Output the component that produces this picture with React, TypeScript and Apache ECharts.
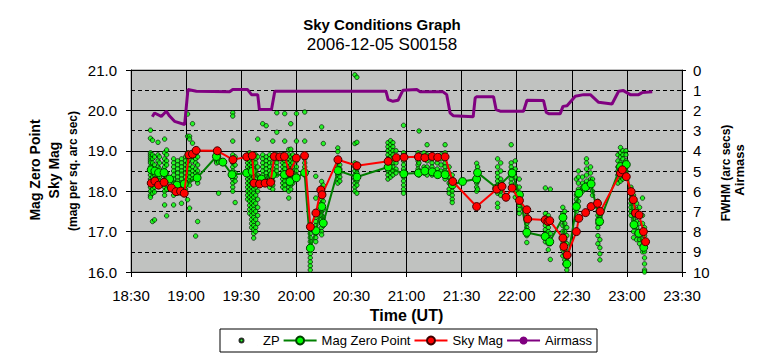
import React, { useEffect, useRef } from 'react';
import * as echarts from 'echarts';

const FONT = "'Liberation Sans', Arial, sans-serif";

// ZP individual measurements: one time per column, many values per column
const zpTimes = [
  "18:40:36","18:41:42","18:42:48","18:44:42","18:45:30","18:48:18","18:49:24","18:53:12","18:55:24","18:57:30",
  "18:59:42","19:00:48","19:01:54","19:03:30","19:05:12","19:06:18","19:16:36","19:17:42","19:25:24","19:26:42",
  "19:33:30","19:34:36","19:35:42","19:36:48","19:37:54","19:39:00","19:41:42","19:43:36","19:45:30","19:47:12",
  "19:49:24","19:52:36","19:53:42","19:55:54","19:57:00","19:58:06","20:00:06","20:04:36","20:07:36","20:10:36",
  "20:13:48","20:14:42","20:22:36","20:23:42","20:31:54","20:33:00","20:49:54","20:51:18","20:52:36","20:54:18",
  "20:58:24","21:06:18","21:06:48","21:09:30","21:11:12","21:13:54","21:16:42","21:18:48","21:21:00","21:23:12",
  "21:24:54","21:38:12","21:38:42","21:49:36","21:51:18","21:57:00","21:59:12","22:01:24","22:05:30","22:15:36",
  "22:17:12","22:18:18","22:25:06","22:26:12","22:27:18","22:32:30","22:33:36","22:35:48","22:38:00","22:40:12",
  "22:41:18","22:44:12","22:45:18","22:55:06","22:56:30","22:57:48","22:59:30","23:02:12","23:03:36","23:05:18",
  "23:06:54","23:08:30","23:09:36"
];
const zpValues = [
  [19.51, 19.31, 18.95, 18.9, 18.85, 18.8, 18.75, 18.7, 18.6, 18.5, 18.4, 18.3, 18.2, 18.1, 18.0, 17.9, 17.85],
  [19.26, 18.9, 18.8, 18.7, 18.55, 18.45, 18.35, 18.25, 18.15, 18.05, 17.95, 17.25],
  [18.85, 18.65, 18.5, 18.4, 18.3, 18.2, 18.1, 17.98, 17.29],
  [19.21, 18.9, 18.75, 18.6, 18.5, 18.4, 18.3, 18.2],
  [18.85, 18.7, 18.55, 18.45, 18.35, 18.25],
  [19.29, 18.95, 18.8, 18.7, 18.6, 18.5, 18.4, 18.3, 18.2, 18.1, 18.0, 17.9, 17.66],
  [19.02, 18.9, 18.75, 18.65, 18.45, 18.35, 18.25, 18.15, 18.05, 17.39],
  [18.8, 18.7, 18.6, 18.5, 18.4, 18.3, 18.2, 18.1, 18.0, 17.9, 17.66],
  [18.75, 18.65, 18.55, 18.45, 18.35, 18.25, 18.15, 18.05, 17.95],
  [18.8, 18.7, 18.6, 18.5, 18.4, 18.3, 18.2, 18.1, 18.0, 17.7],
  [18.85, 18.75, 18.65, 18.55, 18.45, 18.35, 18.25, 18.15, 18.05],
  [19.91, 19.36, 18.95, 18.85, 18.7, 18.6, 18.5, 18.4, 18.3, 18.2, 17.79],
  [19.36, 19.29, 18.9, 18.8, 18.65, 18.55, 18.45, 18.35, 18.25, 18.15, 17.58],
  [19.67, 19.19, 18.95, 18.85, 18.75, 18.6, 18.5, 18.4, 18.3],
  [18.9, 18.8, 18.7, 18.55, 18.45, 18.35, 16.89],
  [18.85, 18.65, 18.5, 18.4, 18.3, 18.2, 17.25],
  [18.95, 18.9, 18.85, 18.8, 18.75, 18.7],
  [18.92, 18.85, 18.78, 18.72, 17.95],
  [19.94, 19.86, 19.24, 18.9, 18.8, 18.7, 18.6, 18.5, 18.4, 18.3, 18.2, 18.1, 18.0],
  [18.85, 18.65, 18.45, 18.35, 18.25, 17.72],
  [18.9, 18.8, 18.7, 18.6, 18.5, 18.4, 18.3, 18.2, 18.1, 18.0, 17.9, 17.8],
  [18.95, 18.85, 18.75, 18.65, 18.55, 18.45, 18.35, 18.25, 18.15, 18.05, 17.95, 17.85, 17.75, 17.65, 17.55, 17.45],
  [18.9, 18.8, 18.7, 18.6, 18.5, 18.4, 18.3, 18.2, 18.1, 18.0, 17.9, 17.8, 17.7, 17.6, 17.5, 17.4, 17.3, 17.2, 17.1],
  [18.85, 18.75, 18.65, 18.55, 18.45, 18.35, 18.25, 18.15, 18.05, 17.95, 17.85, 17.75, 17.65, 17.55, 17.45, 17.35, 17.25, 17.15, 17.05, 16.95, 16.84],
  [18.9, 18.8, 18.7, 18.5, 18.3, 18.1, 17.9, 17.7, 17.5, 17.3, 17.1, 17.0],
  [19.29, 18.85, 18.6, 18.4, 18.2, 18.0, 17.8, 17.6, 17.4, 17.2],
  [19.67, 18.9, 18.8, 18.7, 18.6, 18.5, 18.4, 18.3, 18.2],
  [19.62, 18.85, 18.75, 18.65, 18.55, 18.45, 18.35, 18.25],
  [18.9, 18.8, 18.7, 18.6, 18.5, 18.4, 18.3, 18.2, 18.1],
  [19.24, 18.85, 18.7, 18.55, 18.45, 18.35, 18.25, 18.15, 18.05],
  [19.94, 19.46, 18.9, 18.8, 18.7, 18.6, 18.5, 18.4],
  [18.9, 18.8, 18.7, 18.6, 18.5, 18.4, 18.3, 18.2, 18.1],
  [19.92, 19.24, 18.85, 18.75, 18.65, 18.55, 18.45, 18.35, 18.25, 18.15, 18.05],
  [19.03, 18.9, 18.8, 18.7, 18.6, 18.5, 18.4, 18.3, 18.2, 18.1, 18.0, 17.83],
  [19.67, 19.04, 18.85, 18.75, 18.65, 18.55, 18.45, 18.35, 18.25, 18.15, 18.05],
  [18.9, 18.8, 18.7, 18.6, 18.5, 18.4, 18.3, 18.2],
  [19.92, 19.24, 18.85, 18.75, 18.6, 18.5, 18.4, 18.3],
  [19.96, 19.24, 18.9, 18.8, 18.7, 18.6, 18.5, 18.4],
  [17.1, 16.95, 16.85, 16.75, 16.65, 16.55, 16.45, 16.35, 16.25, 16.15, 16.05],
  [18.37, 17.83, 17.45, 17.35, 17.25, 17.15, 17.05, 16.95, 16.85, 16.75],
  [19.59, 18.24, 18.1, 18.0, 17.9, 17.8, 17.7, 17.6, 17.5, 17.4, 17.3, 17.2, 17.1, 17.0, 16.92],
  [19.18, 18.15, 17.95, 17.75, 17.55, 17.35, 17.15],
  [19.07, 18.98, 18.7, 18.6, 18.5, 18.4, 18.3, 18.2],
  [18.65, 18.55, 18.45, 18.35, 18.25],
  [20.88, 19.18, 18.7, 18.6, 18.5, 18.4, 18.3, 18.2, 18.1, 18.0],
  [20.82, 19.21, 18.65, 18.55, 18.45, 18.35, 18.25, 18.15, 17.95],
  [19.2, 19.1, 19.0, 18.9, 18.8, 18.7, 18.6, 18.5, 18.4, 18.3],
  [19.25, 19.15, 19.05, 18.95, 18.85, 18.75, 18.65, 18.55, 18.45, 18.35],
  [19.2, 19.1, 19.0, 18.9, 18.8, 18.7, 18.6, 18.5, 18.4],
  [19.0, 18.85, 18.7, 18.55, 18.45],
  [19.63, 18.95, 18.85, 18.75, 18.65, 18.55, 18.45, 18.35, 18.25, 18.15, 18.05, 17.95],
  [18.95, 18.85, 18.75, 18.65, 18.55, 18.45],
  [19.49, 18.9, 18.7, 18.5, 18.4],
  [18.95, 18.8, 18.6, 18.45],
  [19.15, 18.9, 18.75, 18.6, 18.5, 18.4],
  [18.9, 18.8, 18.7, 18.6, 18.5, 18.4],
  [18.85, 18.7, 18.55, 18.45],
  [18.9, 18.8, 18.65, 18.5],
  [19.15, 18.95, 18.85, 18.7, 18.6, 18.5, 18.4, 18.3],
  [18.6, 18.45, 18.35, 18.2, 18.05, 17.95],
  [18.4, 18.3, 18.2, 18.1, 18.0, 17.9, 17.8, 17.72],
  [18.69, 18.5, 18.45, 18.4, 18.3, 18.2, 18.1, 18.0],
  [18.6, 18.35, 18.25, 18.05],
  [18.8, 18.6, 18.45, 18.35, 18.25, 18.15, 18.05, 17.95, 17.7, 17.6],
  [18.7, 18.5, 18.3, 18.2, 18.0, 17.9],
  [19.15, 18.7, 18.6, 18.5, 18.4, 18.3, 18.2],
  [18.75, 18.55, 18.35, 18.15, 18.0, 17.85],
  [18.3, 18.1, 17.95, 17.85, 17.75, 17.65, 17.55, 17.45],
  [17.5, 17.4, 17.3, 17.2, 17.1, 17.0, 16.9, 16.73],
  [18.08, 17.45, 17.35, 17.25, 17.15, 17.05, 16.95, 16.85, 16.75],
  [17.4, 17.3, 17.2, 17.1, 17.0, 16.9, 16.8, 16.7, 16.55],
  [18.05, 17.25, 16.95, 16.7, 16.31],
  [17.6, 17.45, 17.3, 17.15, 17.0, 16.85, 16.7, 16.55, 16.4],
  [17.5, 17.2, 17.0, 16.8, 16.6, 16.45, 16.3, 16.2],
  [17.1, 16.9, 16.7, 16.5, 16.35, 16.2, 16.05],
  [18.3, 17.9, 17.8, 17.7, 17.5, 17.3],
  [18.5, 18.35, 18.2, 18.05, 17.9, 17.75],
  [18.35, 18.2, 18.1, 18.0],
  [18.8, 18.7, 18.55, 18.4, 18.25, 18.15],
  [18.6, 18.45, 18.3, 18.2, 18.1],
  [18.3, 18.0, 17.9, 17.6],
  [17.75, 17.6, 17.5, 17.4, 17.3, 17.2, 17.1, 16.9, 16.7],
  [17.5, 17.35, 17.2, 16.8, 16.6, 16.45, 16.3],
  [18.9, 18.75, 18.6, 18.5, 18.4, 18.3, 18.2],
  [19.08, 18.95, 18.85, 18.7, 18.55, 18.45, 18.35, 18.25],
  [19.0, 18.9, 18.8, 18.65, 18.5, 18.4, 18.3],
  [19.0, 18.9, 18.75, 18.6, 18.5],
  [18.1, 17.95, 17.8, 17.7, 17.6, 17.5, 17.4],
  [17.9, 17.75, 17.6, 17.45, 17.3, 17.15, 17.0, 16.85],
  [17.7, 17.55, 17.4, 17.25, 17.1, 16.95, 16.8],
  [17.6, 17.4, 17.2, 17.0, 16.9, 16.8, 16.7],
  [17.83, 17.4, 17.2, 17.0, 16.8, 16.65, 16.5],
  [17.1, 16.9, 16.7, 16.5, 16.35, 16.2, 16.05, 16.0]
];

// Mag Zero Point (averaged)
const mzpTimes = [
  "18:41:00","18:43:00","18:45:00","18:48:00","18:51:00","18:55:00","18:59:00","19:06:00","19:16:30","19:20:00",
  "19:25:00","19:33:00","19:36:00","19:41:00","19:47:00","19:53:30","19:56:30","20:00:00","20:04:30","20:07:40",
  "20:10:40","20:13:50","20:14:40","20:22:40","20:33:00","20:50:00","20:58:30","21:06:30","21:10:00","21:14:00",
  "21:17:00","21:21:00","21:25:00","21:30:30","21:38:10","21:38:40","21:49:10","21:57:30","22:01:30","22:05:30",
  "22:15:30","22:18:00","22:25:10","22:27:20","22:32:30","22:33:50","22:37:30","22:40:30","22:45:10","22:56:30",
  "22:59:40","23:03:50","23:06:30","23:09:10"
];
const mzpValues = [
  18.53, 18.50, 18.46, 18.46, 18.30, 18.15, 18.18, 18.33, 18.86, 18.72,
  18.41, 18.45, 18.49, 18.30, 18.41, 18.41, 18.24, 18.33, 18.46, 16.59,
  17.02, 17.62, 17.21, 18.51, 18.35, 18.60, 18.43, 18.45, 18.50, 18.48,
  18.41, 18.41, 18.16, 18.24, 18.30, 18.46, 18.08, 18.45, 17.91, 16.98,
  16.88, 16.75, 17.35, 16.20, 17.62, 17.95, 18.10, 18.18, 17.25, 18.61,
  18.66, 17.17, 16.96, 16.61
];

// Sky Mag
const skyTimes = [
  "18:41:00","18:43:00","18:45:00","18:48:00","18:52:00","18:54:30","18:57:00","18:59:00","19:01:30","19:03:30",
  "19:05:30","19:17:00","19:25:30","19:33:00","19:36:00","19:37:00","19:40:00","19:43:00","19:46:00","19:48:00",
  "19:51:00","19:53:30","19:56:30","20:00:00","20:04:30","20:07:40","20:10:40","20:13:20","20:14:00","20:22:40",
  "20:33:00","20:50:00","20:54:30","20:58:40","21:06:30","21:10:00","21:14:00","21:17:00","21:21:00","21:25:10",
  "21:38:10","21:49:10","21:52:00","21:54:10","21:57:30","22:01:30","22:05:30","22:06:00","22:15:30","22:17:00",
  "22:18:00","22:25:10","22:25:40","22:27:30","22:32:30","22:33:50","22:37:30","22:40:30","22:44:00","22:45:30",
  "22:56:30","22:57:30","22:59:40","23:02:20","23:03:30","23:04:40","23:06:40","23:09:00","23:10:10"
];
const skyValues = [
  18.20, 18.25, 18.15, 18.22, 18.08, 17.99, 18.00, 17.95, 18.90, 18.92,
  19.01, 19.00, 18.78, 18.85, 18.88, 18.20, 18.18, 18.20, 18.22, 18.86,
  18.85, 18.86, 18.46, 18.82, 18.88, 17.12, 17.46, 18.03, 17.91, 18.78,
  18.63, 18.74, 18.83, 18.84, 18.85, 18.83, 18.86, 18.84, 18.85, 18.24,
  17.62, 18.05, 18.12, 17.85, 18.08, 17.77, 17.54, 17.31, 17.29, 17.25,
  17.27, 16.84, 16.63, 16.42, 17.00, 17.33, 17.47, 17.62, 17.70, 17.50,
  18.45, 18.53, 18.36, 17.99, 17.79, 17.46, 17.41, 17.00, 16.75
];

// Airmass (right axis)
const airTimes = [
  "18:41:36","18:42:48","18:46:30","18:49:12","18:51:00","18:53:42","18:59:12","19:01:00","19:05:36","19:23:42",
  "19:25:24","19:33:30","19:35:36","19:39:00","19:39:54","19:46:30","19:48:18","20:00:00","20:48:48","20:50:00",
  "20:52:36","20:55:24","20:58:06","21:05:36","21:07:24","21:19:54","21:21:54","21:23:42","21:25:24","21:36:18",
  "21:37:24","21:38:06","21:47:24","21:48:48","21:51:00","22:03:42","22:05:36","22:14:36","22:16:06","22:17:24",
  "22:23:42","22:25:12","22:27:24","22:31:54","22:36:24","22:40:06","22:44:36","22:51:54","22:55:30","22:58:06",
  "23:01:48","23:06:24","23:08:18","23:13:48"
];
const airValues = [
  2.32, 2.13, 2.30, 2.04, 2.28, 2.54, 2.70, 0.97, 1.05, 1.08,
  0.97, 0.97, 1.22, 1.22, 1.96, 1.96, 1.05, 1.05, 1.05, 1.46,
  1.55, 1.50, 1.00, 0.97, 1.08, 1.08, 1.22, 2.12, 2.26, 2.32,
  1.38, 1.33, 1.33, 1.96, 2.04, 2.04, 1.50, 1.51, 2.10, 2.16,
  2.16, 1.80, 1.77, 1.30, 1.22, 1.22, 1.60, 1.68, 1.05, 1.02,
  1.22, 1.22, 1.12, 1.08
];

function toHours(t: string): number {
  const [h, m, s] = t.split(':').map(Number);
  return h + m / 60 + (s || 0) / 3600;
}

function fmtTime(v: number): string {
  const h = Math.floor(v + 1e-9);
  const m = Math.round((v - h) * 60);
  return h + ':' + String(m).padStart(2, '0');
}

export default function App() {
  const ref = useRef<HTMLDivElement>(null);
  useEffect(() => {
    if (!ref.current) return;
    const chart = echarts.init(ref.current, null, { renderer: 'svg' });

    const zpData: number[][] = [];
    zpTimes.forEach((t, i) => {
      zpValues[i].forEach((v) => zpData.push([toHours(t), v]));
    });
    const mzpData = mzpTimes.map((t, i) => [toHours(t), mzpValues[i]]);
    const skyData = skyTimes.map((t, i) => [toHours(t), skyValues[i]]);
    const airData = airTimes.map((t, i) => [toHours(t), airValues[i]]);

    const option: any = {
      animation: false,
      textStyle: { fontFamily: FONT, color: '#000' },
      title: {
        text: 'Sky Conditions Graph',
        subtext: '2006-12-05 S00158',
        left: 'center',
        top: 12,
        itemGap: 4,
        textStyle: { fontFamily: FONT, fontSize: 15, fontWeight: 'bold', color: '#000' },
        subtextStyle: { fontFamily: FONT, fontSize: 17, color: '#000' },
      },
      grid: {
        left: 131,
        right: 82,
        top: 70,
        bottom: 85,
        show: true,
        backgroundColor: '#c0c2c0',
        borderColor: '#808080',
        borderWidth: 1,
      },
      legend: {
        left: 220,
        top: 329,
        orient: 'horizontal',
        itemWidth: 33,
        itemHeight: 10,
        itemGap: 3,
        padding: [5, 5, 5, 4],
        borderColor: '#000',
        borderWidth: 1,
        backgroundColor: '#fff',
        textStyle: { fontFamily: FONT, fontSize: 13, color: '#000' },
        data: [
          { name: 'ZP', icon: 'path://M0,0L0.01,0M33,10L33.01,10M14.5,5A2,2,0,1,0,18.5,5A2,2,0,1,0,14.5,5Z' },
          { name: 'Mag Zero Point' },
          { name: 'Sky Mag' },
          { name: 'Airmass' },
        ],
      },
      xAxis: {
        type: 'value',
        min: 18.5,
        max: 23.5,
        interval: 0.5,
        name: 'Time (UT)',
        nameLocation: 'middle',
        nameGap: 28,
        nameTextStyle: { fontFamily: FONT, fontSize: 16, fontWeight: 'bold', color: '#000' },
        axisLine: { show: true, onZero: false, lineStyle: { color: '#000', width: 1 } },
        axisTick: { show: true, length: 5, lineStyle: { color: '#000' } },
        axisLabel: { formatter: fmtTime, fontFamily: FONT, fontSize: 15, color: '#000', margin: 16 },
        splitLine: { show: true, lineStyle: { color: '#000', width: 1 } },
      },
      yAxis: [
        {
          type: 'value',
          min: 16,
          max: 21,
          interval: 1,
          position: 'left',
          axisLine: { show: true, onZero: false, lineStyle: { color: '#000', width: 1 } },
          axisTick: { show: true, length: 5, lineStyle: { color: '#000' } },
          axisLabel: { formatter: (v: number) => v.toFixed(1), fontFamily: FONT, fontSize: 15, color: '#000', margin: 14 },
          splitLine: { show: true, lineStyle: { color: '#000', width: 1 } },
        },
        {
          type: 'value',
          min: 0,
          max: 10,
          interval: 1,
          inverse: true,
          position: 'right',
          axisLine: { show: true, onZero: false, lineStyle: { color: '#000', width: 1 } },
          axisTick: { show: true, length: 4, lineStyle: { color: '#000' } },
          axisLabel: { fontFamily: FONT, fontSize: 15, color: '#000', margin: 11 },
          splitLine: { show: true, lineStyle: { color: '#000', width: 1, type: [4, 3] } },
        },
      ],
      graphic: [
        { type: 'text', x: 35, y: 170, rotation: Math.PI / 2, style: { text: 'Mag Zero Point', font: "bold 14px 'Liberation Sans', Arial, sans-serif", fill: '#000', textAlign: 'center', textVerticalAlign: 'middle' } },
        { type: 'text', x: 54, y: 170, rotation: Math.PI / 2, style: { text: 'Sky Mag', font: "bold 14px 'Liberation Sans', Arial, sans-serif", fill: '#000', textAlign: 'center', textVerticalAlign: 'middle' } },
        { type: 'text', x: 73, y: 171, rotation: Math.PI / 2, style: { text: '(mag per sq. arc sec)', font: "bold 12px 'Liberation Sans', Arial, sans-serif", fill: '#000', textAlign: 'center', textVerticalAlign: 'middle' } },
        { type: 'text', x: 726, y: 173, rotation: Math.PI / 2, style: { text: 'FWHM (arc secs)', font: "bold 12px 'Liberation Sans', Arial, sans-serif", fill: '#000', textAlign: 'center', textVerticalAlign: 'middle' } },
        { type: 'text', x: 739, y: 170, rotation: Math.PI / 2, style: { text: 'Airmass', font: "bold 13px 'Liberation Sans', Arial, sans-serif", fill: '#000', textAlign: 'center', textVerticalAlign: 'middle' } },
      ],
      series: [
        {
          name: 'ZP',
          type: 'scatter',
          data: zpData,
          symbol: 'circle',
          symbolSize: 4.5,
          itemStyle: { color: '#00ff00', borderColor: '#000', borderWidth: 0.8 },
          z: 2,
        },
        {
          name: 'Mag Zero Point',
          type: 'line',
          data: mzpData,
          symbol: 'circle',
          symbolSize: 8,
          showSymbol: true,
          lineStyle: { color: '#008000', width: 2 },
          itemStyle: { color: '#00ff00', borderColor: '#004000', borderWidth: 1 },
          z: 3,
        },
        {
          name: 'Sky Mag',
          type: 'line',
          data: skyData,
          symbol: 'circle',
          symbolSize: 8,
          showSymbol: true,
          lineStyle: { color: '#ff0000', width: 2 },
          itemStyle: { color: '#ff0000', borderColor: '#400000', borderWidth: 1 },
          z: 4,
        },
        {
          name: 'Airmass',
          type: 'line',
          yAxisIndex: 1,
          data: airData,
          symbol: 'none',
          lineStyle: { color: '#800080', width: 3 },
          itemStyle: { color: '#800080' },
          z: 5,
        },
      ],
    };
    chart.setOption(option);
    return () => chart.dispose();
  }, []);
  return <div ref={ref} style={{ position: 'absolute', left: 0, top: 0, width: 764, height: 357 }} />;
}
